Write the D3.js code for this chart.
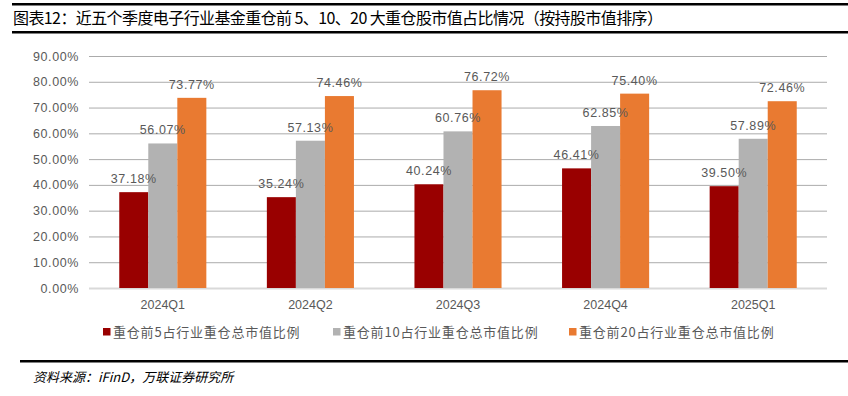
<!DOCTYPE html>
<html>
<head>
<meta charset="utf-8">
<script src="https://cdn.jsdelivr.net/npm/d3@7"></script>
<style>
  body { margin: 0; background: #fff; }
  svg { display: block; }
</style>
</head>
<body>
<div id="chart"></div>
<script>
// data
var quarters = ['2024Q1', '2024Q2', '2024Q3', '2024Q4', '2025Q1'];
var seriesNames = ['重仓前5占行业重仓总市值比例', '重仓前10占行业重仓总市值比例', '重仓前20占行业重仓总市值比例'];
var top5 = [37.18, 35.24, 40.24, 46.41, 39.50];
var top10 = [56.07, 57.13, 60.76, 62.85, 57.89];
var top20 = [73.77, 74.46, 76.72, 75.40, 72.46];
var yTicks = [0, 10, 20, 30, 40, 50, 60, 70, 80, 90];

var colors = ['#990000', '#B2B2B2', '#E97A31'];
var seriesValues = [top5, top10, top20];

var W = 848, H = 396;
var margin = {top: 56, left: 89, right: 21, bottom: 108};
var plotBottom = H - margin.bottom;
var plotRight = W - margin.right;

var svg = d3.select('#chart')
    .append('svg')
    .attr('width', W)
    .attr('height', H);

// title + frame lines
svg.append('rect').attr('x', 12).attr('y', 3).attr('width', W - 12).attr('height', 2.5).attr('fill', '#000');
svg.append('rect').attr('x', 12).attr('y', 31).attr('width', W - 12).attr('height', 2.5).attr('fill', '#000');
svg.append('text')
    .attr('x', 13)
    .attr('y', 24)
    .attr('font-family', '"Noto Sans CJK SC", sans-serif')
    .attr('font-size', 16)
    .attr('fill', '#000')
    .attr('textLength', 650)
    .text('图表12：近五个季度电子行业基金重仓前 5、10、20 大重仓股市值占比情况（按持股市值排序）');

svg.append('rect').attr('x', 20).attr('y', 360).attr('width', W - 20).attr('height', 2.5).attr('fill', '#000');
svg.append('text')
    .attr('x', 33)
    .attr('y', 382)
    .attr('font-family', '"Noto Sans CJK SC", sans-serif')
    .attr('font-size', 13)
    .attr('font-style', 'italic')
    .attr('fill', '#000')
    .text('资料来源：iFinD，万联证券研究所');

// scales
var x0 = d3.scaleBand()
    .domain(quarters)
    .range([margin.left, plotRight])
    .paddingInner(0.41)
    .paddingOuter(0.205);

var x1 = d3.scaleBand()
    .domain([0, 1, 2])
    .range([0, x0.bandwidth()]);

var y = d3.scaleLinear()
    .domain([0, 90])
    .range([plotBottom, margin.top]);

// grid
svg.append('g')
    .attr('class', 'grid-lines')
    .attr('transform', 'translate(' + margin.left + ',0)')
    .call(d3.axisLeft(y)
        .tickValues(yTicks)
        .tickSize(-(plotRight - margin.left))
        .tickFormat(function(d) { return d3.format('.2f')(d) + '%' })
    )
    .call(function(g) {
        g.select('.domain').remove();
        g.selectAll('.tick line').attr('stroke', function(d) { return d === 0 ? '#D9D9D9' : '#ABABAB' })
            .attr('stroke-width', function(d) { return d === 0 ? 2 : 1 });
        g.selectAll('.tick text')
            .attr('x', -10)
            .attr('fill', '#595959')
            .attr('font-family', '"Liberation Sans", Arial, sans-serif')
            .attr('font-size', 12.5)
            .attr('letter-spacing', 0.6);
    });

// bars
var groups = svg.selectAll('g.quarter')
    .data(quarters)
    .enter()
    .append('g')
    .attr('class', 'quarter')
    .attr('transform', function(d) { return 'translate(' + x0(d) + ',0)' });

groups.selectAll('rect')
    .data(function(d, i) { return seriesValues.map(function(s, k) { return {k: k, v: s[i]} }) })
    .enter()
    .append('rect')
    .attr('x', function(d) { return x1(d.k) })
    .attr('y', function(d) { return y(d.v) })
    .attr('width', x1.bandwidth())
    .attr('height', function(d) { return plotBottom - y(d.v) })
    .attr('fill', function(d) { return colors[d.k] });

groups.selectAll('text.val')
    .data(function(d, i) { return seriesValues.map(function(s, k) { return {k: k, v: s[i]} }) })
    .enter()
    .append('text')
    .attr('class', 'val')
    .attr('x', function(d) { return x1(d.k) + x1.bandwidth() / 2 })
    .attr('y', function(d) { return y(d.v) - 9 })
    .attr('text-anchor', 'middle')
    .attr('fill', '#595959')
    .attr('font-family', '"Liberation Sans", Arial, sans-serif')
    .attr('font-size', 12.5)
    .attr('letter-spacing', 0.6)
    .text(function(d) { return d3.format('.2f')(d.v) + '%' });

// category labels
svg.append('g')
    .selectAll('text')
    .data(quarters)
    .enter()
    .append('text')
    .attr('x', function(d) { return x0(d) + x0.bandwidth() / 2 })
    .attr('y', 309)
    .attr('text-anchor', 'middle')
    .attr('fill', '#595959')
    .attr('font-family', '"Liberation Sans", Arial, sans-serif')
    .attr('font-size', 12.5)
    .text(function(d) { return d });

// legend
var legendX = [103, 333, 569];
var legend = svg.selectAll('g.legend')
    .data(seriesNames)
    .enter()
    .append('g')
    .attr('class', 'legend')
    .attr('transform', function(d, i) { return 'translate(' + legendX[i] + ',332)' });

legend.append('rect')
    .attr('x', 0)
    .attr('y', -4)
    .attr('width', 7.5)
    .attr('height', 7.5)
    .attr('fill', function(d, i) { return colors[i] });

legend.append('text')
    .attr('x', 10)
    .attr('y', 5)
    .attr('fill', '#595959')
    .attr('font-family', '"Noto Sans CJK SC", sans-serif')
    .attr('font-size', 13)
    .attr('letter-spacing', 0.8)
    .text(function(d) { return d });
</script>
</body>
</html>
